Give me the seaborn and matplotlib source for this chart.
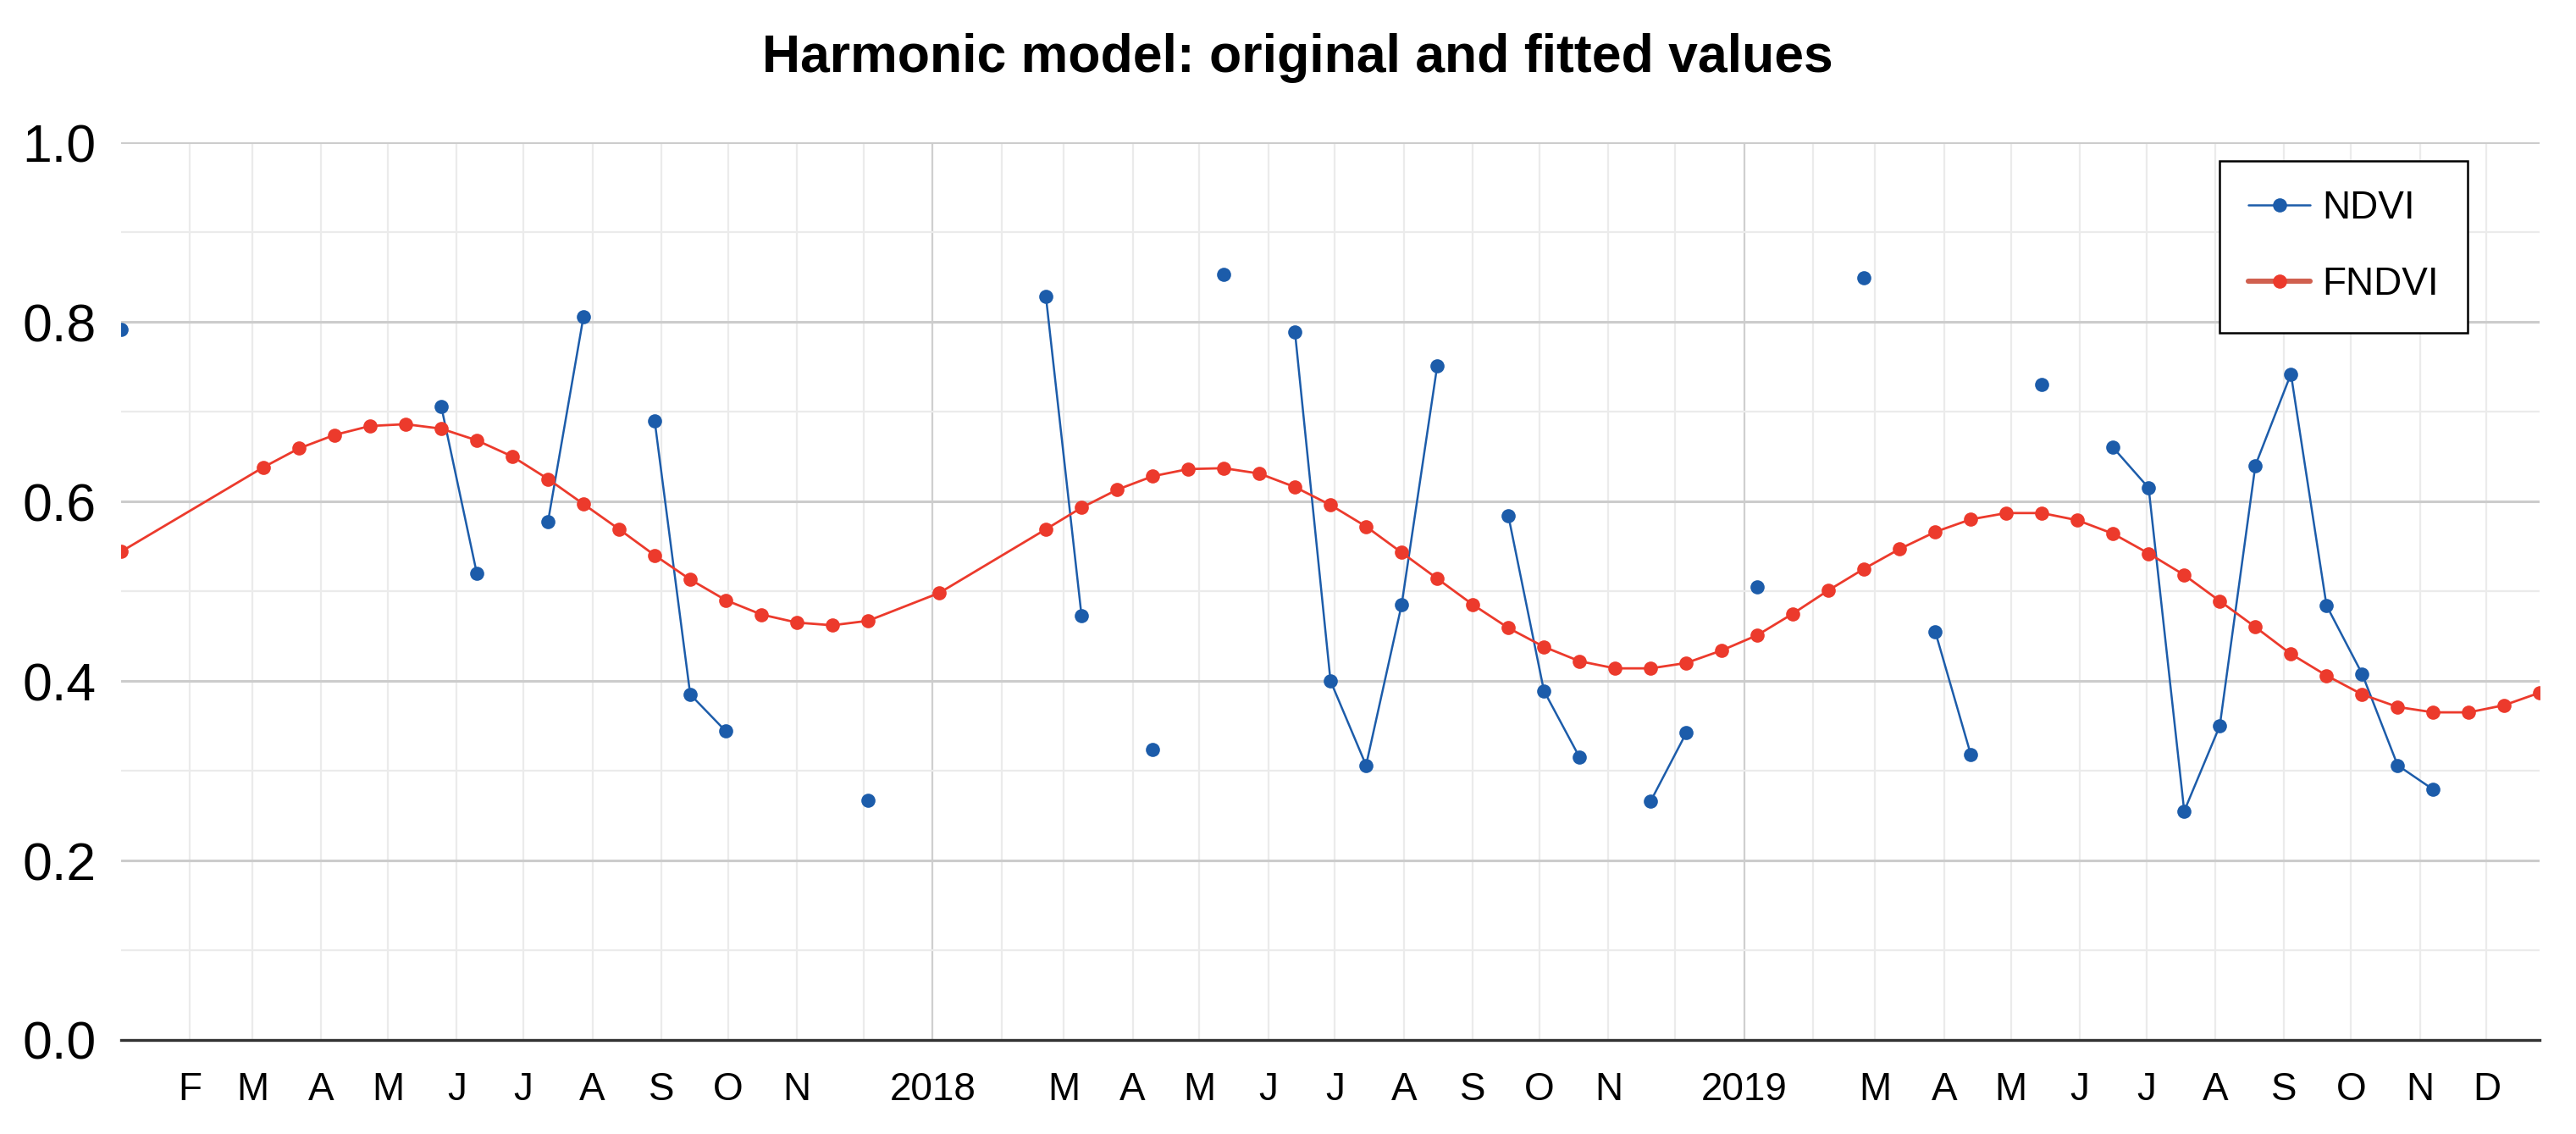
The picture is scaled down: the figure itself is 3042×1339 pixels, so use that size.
"""Harmonic model chart: NDVI observations and fitted FNDVI, 2017-2019."""

import matplotlib.pyplot as plt
import pandas as pd
import seaborn as sns
from matplotlib.lines import Line2D

TITLE = "Harmonic model: original and fitted values"

# image dates (16-day revisit, only scenes kept by the filter)
DATES = [
    "2017-01-01",
    "2017-03-06", "2017-03-22", "2017-04-07", "2017-04-23", "2017-05-09",
    "2017-05-25", "2017-06-10", "2017-06-26", "2017-07-12", "2017-07-28",
    "2017-08-13", "2017-08-29", "2017-09-14", "2017-09-30", "2017-10-16",
    "2017-11-01", "2017-11-17", "2017-12-03",
    "2018-01-04",
    "2018-02-21", "2018-03-09", "2018-03-25", "2018-04-10", "2018-04-26",
    "2018-05-12", "2018-05-28", "2018-06-13", "2018-06-29", "2018-07-15",
    "2018-07-31", "2018-08-16", "2018-09-01", "2018-09-17", "2018-10-03",
    "2018-10-19", "2018-11-04", "2018-11-20", "2018-12-06", "2018-12-22",
    "2019-01-07", "2019-01-23", "2019-02-08", "2019-02-24", "2019-03-12",
    "2019-03-28", "2019-04-13", "2019-04-29", "2019-05-15", "2019-05-31",
    "2019-06-16", "2019-07-02", "2019-07-18", "2019-08-03", "2019-08-19",
    "2019-09-04", "2019-09-20", "2019-10-06", "2019-10-22", "2019-11-07",
    "2019-11-23", "2019-12-09", "2019-12-25",
]

# observed NDVI, None where the pixel was masked
NDVI = [
    0.792,
    None, None, None, None, None,
    0.706, 0.520, None, 0.577, 0.806,
    None, 0.690, 0.385, 0.344, None,
    None, None, 0.267,
    None,
    0.828, 0.473, None, 0.324, None,
    0.853, None, 0.789, 0.400, 0.306,
    0.485, 0.751, None, 0.584, 0.389,
    0.315, None, 0.266, 0.342, None,
    0.505, None, None, 0.849, None,
    0.455, 0.318, None, 0.730, None,
    0.660, 0.615, 0.255, 0.350, 0.640,
    0.742, 0.484, 0.408, 0.306, 0.279,
    None, None, None,
]

# fitted harmonic NDVI
FNDVI = [
    0.544,
    0.638, 0.659, 0.674, 0.684, 0.686,
    0.681, 0.668, 0.650, 0.625, 0.597,
    0.569, 0.540, 0.513, 0.490, 0.474,
    0.465, 0.462, 0.467,
    0.498,
    0.569, 0.593, 0.613, 0.628, 0.636,
    0.637, 0.631, 0.616, 0.596, 0.572,
    0.543, 0.514, 0.485, 0.459, 0.438,
    0.422, 0.414, 0.414, 0.420, 0.434,
    0.451, 0.475, 0.501, 0.525, 0.547,
    0.566, 0.580, 0.587, 0.587, 0.579,
    0.564, 0.542, 0.518, 0.489, 0.460,
    0.430, 0.406, 0.385, 0.371, 0.365,
    0.365, 0.373, 0.387,
]

YEAR_TICKS = ["2018-01-01", "2019-01-01"]
YEAR_LABELS = ["2018", "2019"]
MONTH_LABELS = (
    ["F", "M", "A", "M", "J", "J", "A", "S", "O", "N", ""]
    + ["", "M", "A", "M", "J", "J", "A", "S", "O", "N", ""]
    + ["", "M", "A", "M", "J", "J", "A", "S", "O", "N", "D"]
)
Y_TICKS = [0.0, 0.2, 0.4, 0.6, 0.8, 1.0]
Y_LABELS = ["0.0", "0.2", "0.4", "0.6", "0.8", "1.0"]
Y_MINOR = [0.1, 0.3, 0.5, 0.7, 0.9]

BLUE = "#1c5caa"
RED = "#ec3a2c"
FONT = ["Liberation Sans", "DejaVu Sans"]


def build_frame() -> pd.DataFrame:
    data = pd.DataFrame(
        {
            "date": pd.to_datetime(DATES),
            "NDVI": pd.to_numeric(pd.Series(NDVI, dtype="object"), errors="coerce"),
            "FNDVI": FNDVI,
        }
    )
    # break the observed line wherever a value is missing
    data["segment"] = data["NDVI"].isna().cumsum()
    return data


def main() -> None:
    sns.set_theme(style="white")
    plt.rcParams["font.family"] = FONT
    plt.rcParams["text.color"] = "black"

    data = build_frame()
    observed = data.dropna(subset=["NDVI"])

    fig, ax = plt.subplots(figsize=(15.21, 6.695), dpi=200)
    fig.subplots_adjust(left=0.047, right=0.986, bottom=0.0829, top=0.8745)

    sns.lineplot(
        data=observed,
        x="date",
        y="NDVI",
        units="segment",
        estimator=None,
        color=BLUE,
        linewidth=0.9,
        marker="o",
        markersize=6,
        markeredgewidth=0,
        ax=ax,
        zorder=3,
    )
    sns.lineplot(
        data=data,
        x="date",
        y="FNDVI",
        estimator=None,
        color=RED,
        linewidth=1.0,
        marker="o",
        markersize=6,
        markeredgewidth=0,
        ax=ax,
        zorder=4,
    )

    ax.set_xlim(data["date"].min(), data["date"].max())
    ax.set_ylim(0, 1)

    month_ticks = pd.date_range("2017-02-01", "2019-12-01", freq="MS")
    month_ticks = month_ticks[month_ticks.month != 1]
    ax.set_xticks(pd.to_datetime(YEAR_TICKS), labels=YEAR_LABELS)
    ax.set_xticks(month_ticks, labels=MONTH_LABELS, minor=True)
    ax.set_yticks(Y_TICKS, labels=Y_LABELS)
    ax.set_yticks(Y_MINOR, minor=True)

    ax.tick_params(axis="x", which="both", length=0, pad=13.5, labelsize=16.5, colors="black")
    ax.tick_params(axis="y", which="both", length=0, pad=10.5, labelsize=22.5, colors="black")

    ax.grid(which="major", axis="y", color="#cccccc", linewidth=1.1)
    ax.grid(which="minor", axis="y", color="#ebebeb", linewidth=0.8)
    ax.grid(which="major", axis="x", color="#cfcfcf", linewidth=0.8)
    ax.grid(which="minor", axis="x", color="#ebebeb", linewidth=0.8)
    ax.set_axisbelow(True)

    for side in ("top", "right", "left"):
        ax.spines[side].set_visible(False)
    ax.spines["bottom"].set_color("#333333")
    ax.spines["bottom"].set_linewidth(1.2)
    ax.spines["bottom"].set_zorder(5)

    ax.set_xlabel("")
    ax.set_ylabel("")

    handles = [
        Line2D([], [], color=BLUE, linewidth=0.9, marker="o", markersize=6,
               markeredgewidth=0),
        Line2D([], [], color="#d0604f", linewidth=2.2, marker="o", markersize=6,
               markerfacecolor=RED, markeredgewidth=0),
    ]
    legend = ax.legend(
        handles,
        ["NDVI", "FNDVI"],
        loc="upper right",
        bbox_to_anchor=(2914 / 3042, 1 - 190 / 1339),
        bbox_transform=fig.transFigure,
        fontsize=16.5,
        frameon=True,
        fancybox=False,
        edgecolor="black",
        framealpha=1,
        handlelength=1.6,
        handletextpad=0.3,
        borderpad=0.75,
        labelspacing=1.0,
        borderaxespad=0,
    )
    legend.get_frame().set_linewidth(0.9)
    for text in legend.get_texts():
        text.set_color("black")

    fig.text(
        0.5036,
        1 - 68 / 1339,
        TITLE,
        ha="center",
        va="center",
        fontsize=22.5,
        fontweight="bold",
        color="black",
    )

    fig.savefig("out.png", dpi=200)
    plt.close(fig)


if __name__ == "__main__":
    main()
